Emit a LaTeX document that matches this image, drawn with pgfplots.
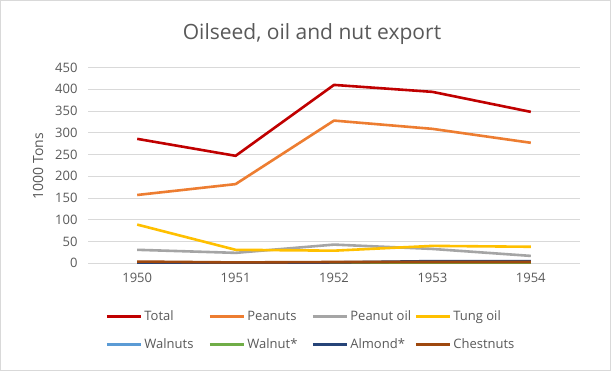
\documentclass[border=0pt]{standalone}
\usepackage{pgfplots}
\pgfplotsset{compat=1.18}
\usepackage{fontspec}
\setmainfont{Open Sans}
\definecolor{txt}{RGB}{89,89,89}
\definecolor{grd}{RGB}{217,217,217}
\definecolor{cTotal}{RGB}{192,0,0}
\definecolor{cPeanuts}{RGB}{237,125,49}
\definecolor{cPoil}{RGB}{165,165,165}
\definecolor{cTung}{RGB}{255,192,0}
\definecolor{cWalnuts}{RGB}{91,155,213}
\definecolor{cWalnutS}{RGB}{112,173,71}
\definecolor{cAlmond}{RGB}{38,68,120}
\definecolor{cChest}{RGB}{158,72,14}
\newcommand{\lb}[1]{\makebox[60bp][l]{#1}}
\begin{document}
\begin{tikzpicture}
\fill[white] (0,0) rectangle (611bp,371bp);
\draw[grd, line width=0.75bp] (0.4bp,0.4bp) rectangle (610.6bp,370.6bp);
\node[txt, font=\fontsize{21bp}{24bp}\selectfont] at (312bp,337bp) {Oilseed, oil and nut export};
\node[txt, rotate=90, font=\fontsize{14bp}{16bp}\selectfont] at (38bp,205bp) {1000 Tons};
\begin{axis}[
  at={(88bp,107.7bp)}, anchor=south west,
  scale only axis, width=492bp, height=195.8bp,
  xmin=-0.5, xmax=4.5, ymin=0, ymax=450,
  xtick={0,1,2,3,4}, xticklabels={1950,1951,1952,1953,1954},
  ytick={0,50,...,450},
  ymajorgrids, grid style={grd, line width=0.75bp},
  axis line style={draw=none},
  major tick length=0pt,
  tick label style={txt, font=\fontsize{13bp}{15bp}\selectfont},
  /pgf/number format/assume math mode=true,
  yticklabel style={xshift=-7bp},
  xticklabel style={yshift=-6bp},
  every axis plot/.append style={line width=2.6bp, line join=round},
  legend columns=4,
  legend style={at={(axis description cs:0.035,-0.23)}, anchor=north west, draw=none, fill=none,
    font=\fontsize{13bp}{15bp}\selectfont, text=txt,
    /tikz/every even column/.append style={column sep=2bp},
    /tikz/every odd column/.append style={column sep=0bp},
    row sep=13bp, inner sep=0pt},
  legend cell align=left,
  legend image code/.code={\draw[#1, line width=3bp] (0bp,0bp) -- (34bp,0bp);},
]
\addplot[cTotal] coordinates {(0,286) (1,247) (2,410) (3,394) (4,348)};
\addlegendentry{\lb{Total}}
\addplot[cPeanuts] coordinates {(0,157) (1,182) (2,328) (3,309) (4,277)};
\addlegendentry{\lb{Peanuts}}
\addplot[cPoil] coordinates {(0,31) (1,24) (2,43) (3,33) (4,17)};
\addlegendentry{\lb{Peanut oil}}
\addplot[cTung] coordinates {(0,89) (1,31) (2,29) (3,40) (4,38)};
\addlegendentry{\lb{Tung oil}}
\addplot[cWalnuts] coordinates {(0,2) (1,1) (2,2) (3,2) (4,2)};
\addlegendentry{\lb{Walnuts}}
\addplot[cWalnutS] coordinates {(0,1) (1,1) (2,1) (3,1) (4,1)};
\addlegendentry{\lb{Walnut*}}
\addplot[cAlmond] coordinates {(0,1) (1,1) (2,2) (3,5) (4,5)};
\addlegendentry{\lb{Almond*}}
\addplot[cChest] coordinates {(0,4) (1,2) (2,3) (3,3) (4,3)};
\addlegendentry{\lb{Chestnuts}}
\end{axis}
\end{tikzpicture}
\end{document}
